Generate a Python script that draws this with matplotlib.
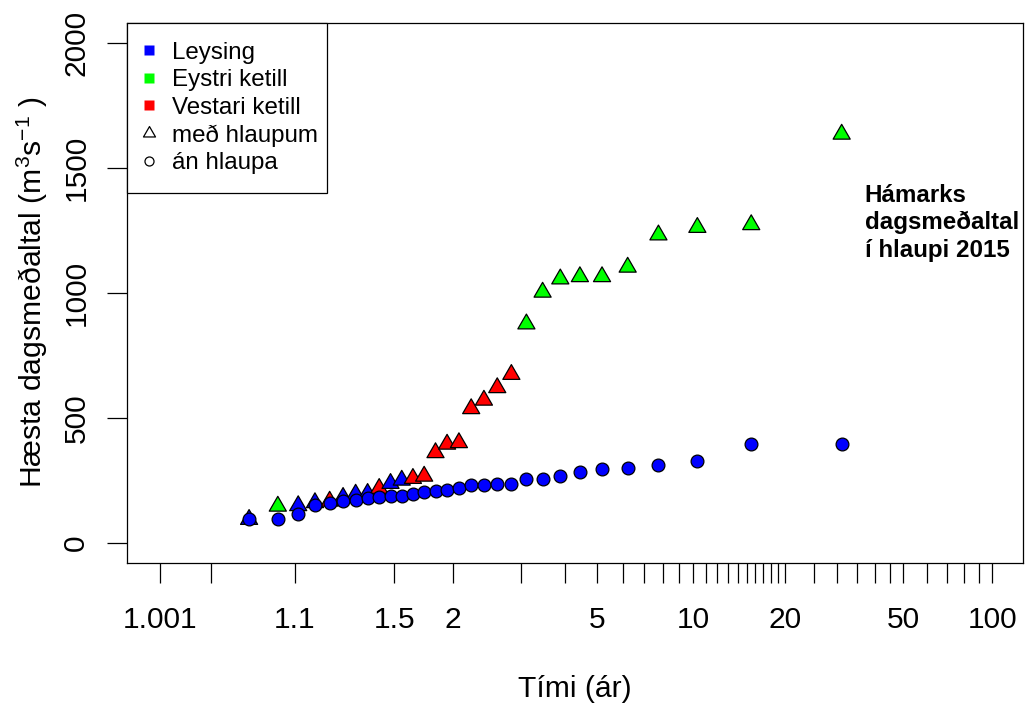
import numpy as np
import matplotlib.pyplot as plt
from matplotlib.lines import Line2D
from matplotlib.path import Path

plt.rcParams['font.family'] = ['Liberation Sans', 'DejaVu Sans']
plt.rcParams['mathtext.fontset'] = 'custom'
plt.rcParams['mathtext.rm'] = 'Liberation Sans'
plt.rcParams['mathtext.it'] = 'Liberation Sans:italic'
plt.rcParams['mathtext.default'] = 'regular'

# Hæsta dagsmeðaltal hvers árs (m3/s), raðað frá minnsta til stærsta
med_hlaupum = [93, 146, 148, 160, 166, 181, 194, 197, 217, 237,
               250, 257, 266, 360, 394, 400, 536, 570, 620, 673,
               875, 1002, 1055, 1064, 1064, 1102, 1231, 1261, 1272, 1634]
uppruni = ['Leysing', 'Eystri ketill', 'Leysing', 'Leysing', 'Vestari ketill',
           'Leysing', 'Leysing', 'Leysing', 'Vestari ketill', 'Leysing',
           'Leysing', 'Vestari ketill', 'Vestari ketill', 'Vestari ketill', 'Vestari ketill',
           'Vestari ketill', 'Vestari ketill', 'Vestari ketill', 'Vestari ketill', 'Vestari ketill',
           'Eystri ketill', 'Eystri ketill', 'Eystri ketill', 'Eystri ketill', 'Eystri ketill',
           'Eystri ketill', 'Eystri ketill', 'Eystri ketill', 'Eystri ketill', 'Eystri ketill']
an_hlaupa = [93, 93, 115, 149, 158, 165, 172, 178, 181, 186,
             186, 194, 201, 208, 212, 218, 232, 232, 234, 235,
             253, 253, 265, 281, 294, 298, 311, 325, 393, 393]

litir = {'Leysing': '#0000FF', 'Eystri ketill': '#00FF00', 'Vestari ketill': '#FF0000'}

t_major = [1.001, 1.1, 1.5, 2, 5, 10, 20, 50, 100]
t_minor = [1.01, 3, 4, 6, 7, 8, 9, 11, 12, 13, 14, 15, 16, 17, 18, 19,
           25, 30, 35, 40, 45, 60, 70, 80, 90]
y_ticks = [0, 500, 1000, 1500, 2000]


def gumbel(t):
    with np.errstate(all='ignore'):
        return -np.log(-np.log(1 - 1 / np.asarray(t, dtype=float)))


def gumbel_inv(y):
    return 1 / (1 - np.exp(-np.exp(-np.asarray(y, dtype=float))))


def endurkomutimi(gildi):
    # Weibull plotting position: T = (n+1)/m, m = rank from the top
    n = len(gildi)
    m = np.arange(n, 0, -1)
    return (n + 1) / m


# triangle shaped like R's pch 24 (centroid at the origin)
thrihyrna = Path([(0, 1.555), (1.347, -0.778), (-1.347, -0.778), (0, 1.555)], closed=True)

fig = plt.figure(figsize=(10.25, 7.08), dpi=100)
ax = fig.add_axes([127 / 1025, 145.3 / 708, 895.5 / 1025, 540 / 708])
ax.set_xscale('function', functions=(gumbel, gumbel_inv))

t_med = endurkomutimi(med_hlaupum)
t_an = endurkomutimi(an_hlaupa)

ax.scatter(t_med, med_hlaupum, marker=thrihyrna, s=14.2 ** 2,
           c=[litir[u] for u in uppruni], edgecolors='black', linewidths=0.9, zorder=3)
ax.scatter(t_an, an_hlaupa, marker='o', s=9.2 ** 2,
           c='#0000FF', edgecolors='black', linewidths=0.9, zorder=4)

ax.set_xlim(gumbel_inv(-2.192), gumbel_inv(4.837))
ax.set_ylim(-80, 2080)

ax.set_xticks(t_major, labels=[f'{t:g}' for t in t_major])
ax.set_xticks(t_minor, minor=True)
ax.set_yticks(y_ticks, labels=[str(v) for v in y_ticks])
for lab in ax.get_yticklabels():
    lab.set_rotation(90)
    lab.set_va('center')

ax.tick_params(axis='both', which='both', length=14.4, width=0.9, labelsize=21.5)
ax.tick_params(axis='x', which='both', pad=17)
ax.tick_params(axis='y', which='both', pad=12)
for sp in ax.spines.values():
    sp.set_linewidth(0.9)

ax.set_xlabel('Tími (ár)', fontsize=21.7)
ax.xaxis.set_label_coords(0.5, -0.2487)
ax.xaxis.label.set_va('baseline')
ax.set_ylabel(r'Hæsta dagsmeðaltal (m$^3$s$^{-1}$ )', fontsize=21.7)
ax.yaxis.set_label_coords(-0.0856, 0.5)

ax.text(37, 1280, 'Hámarks\ndagsmeðaltal\ní hlaupi 2015', fontsize=17.4,
        fontweight='bold', ha='left', va='center', linespacing=1.24)

handles = [Line2D([], [], ls='none', marker='s', ms=7.2, mfc=litir[k], mec='none')
           for k in litir]
handles += [Line2D([], [], ls='none', marker=thrihyrna, ms=10, mfc='none', mec='black', mew=0.9),
            Line2D([], [], ls='none', marker='o', ms=6.5, mfc='none', mec='black', mew=0.9)]
labels = list(litir) + ['með hlaupum', 'án hlaupa']
leg = ax.legend(handles, labels, loc='upper left', bbox_to_anchor=(0, 1, 200 / 895.5, 0),
                mode='expand', borderaxespad=0, borderpad=0.79, labelspacing=0.23,
                handlelength=0.25, handletextpad=0.81, fontsize=17.4,
                fancybox=False, edgecolor='black', framealpha=1)
leg.get_frame().set_linewidth(0.9)

fig.savefig('out.png', dpi=100)
